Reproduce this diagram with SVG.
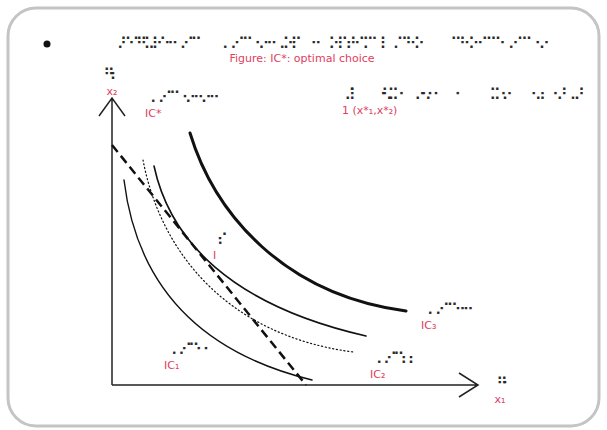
<svg xmlns="http://www.w3.org/2000/svg" width="607" height="430" viewBox="0 0 607 430">
<style>
.br{font-family:"DejaVu Sans",sans-serif;font-size:16px;fill:#2a2a2a}
.lb{font-family:"DejaVu Sans","Noto Sans",sans-serif;font-size:11px;fill:#e0405e}
.ax{fill:none;stroke:#222;stroke-width:1.5}
.c{fill:none;stroke:#111;stroke-linecap:round}
</style>
<rect x="0" y="0" width="607" height="430" fill="#ffffff"/>
<rect x="8" y="8" width="591" height="418" rx="28" fill="#fff" stroke="#c4c4c4" stroke-width="3"/>
<circle cx="47" cy="44" r="3.5" fill="#111"/>
<g id="title">
<text class="br" y="49"><tspan x="112" textLength="90">⠠⠋⠊⠛⠥⠗⠑⠒⠠⠊⠉</tspan><tspan x="217" textLength="85">⠠⠠⠊⠉⠐⠔⠒⠠⠕⠏</tspan><tspan x="310" textLength="11">⠒</tspan><tspan x="328" textLength="97">⠕⠏⠞⠊⠍⠁⠇⠠⠉⠓⠕</tspan><tspan x="450" textLength="100">⠉⠓⠕⠊⠉⠑⠠⠊⠉⠐⠔</tspan></text>
<text class="lb" x="302" y="62" text-anchor="middle">Figure: IC*: optimal choice</text>
</g>
<g id="axes">
<path class="ax" d="M112,385 V98 M99,116 L112,98 L125,116"/>
<path class="ax" d="M112,385 H478 M459,373 L478,385 L459,397"/>
</g>
<g id="x2label">
<text class="br" x="103" y="80" textLength="18">⠛⠆</text>
<text class="lb" x="112" y="95" text-anchor="middle">x₂</text>
</g>
<g id="x1label">
<text class="br" x="496" y="389" textLength="17">⠛⠂</text>
<text class="lb" x="500" y="403" text-anchor="middle">x₁</text>
</g>
<g id="connectors">
<path class="c" stroke-width="3" d="M190,133 C215,215 285,295 406,311"/>
<path class="c" stroke-width="1.6" d="M154,166 C170,240 230,305 366,336"/>
<path class="c" stroke-width="1.2" stroke-dasharray="1.2 2.6" d="M143,160 C160,250 225,335 353,352"/>
<path class="c" stroke-width="1.4" d="M124,180 C138,295 210,355 312,380"/>
<path fill="none" stroke="#111" stroke-width="2.5" stroke-dasharray="9 5" d="M112,145 L306,385"/>
</g>
<g id="icstar">
<text class="br" x="145" y="103" textLength="75">⠠⠠⠊⠉⠐⠔⠒⠔⠒</text>
<text class="lb" x="145" y="117">IC*</text>
</g>
<g id="point">
<text class="br" y="100"><tspan x="344" textLength="16">⠼⠁</tspan><tspan x="375" textLength="30">⠐⠣⠭⠐</tspan><tspan x="414" textLength="30">⠔⠢⠂⠂</tspan><tspan x="454" textLength="5">⠂</tspan><tspan x="489" textLength="24">⠭⠐⠔</tspan><tspan x="530" textLength="55">⠢⠆⠐⠜⠠⠜</tspan></text>
<text class="lb" x="342" y="114">1 (x*₁,x*₂)</text>
</g>
<g id="I">
<text class="br" x="212" y="245" textLength="16">⠠⠊</text>
<text class="lb" x="213" y="259">I</text>
</g>
<g id="ic1">
<text class="br" x="166" y="355" textLength="48">⠠⠠⠊⠉⠂⠂</text>
<text class="lb" x="164" y="369">IC₁</text>
</g>
<g id="ic2">
<text class="br" x="371" y="364" textLength="48">⠠⠠⠊⠉⠆⠆</text>
<text class="lb" x="370" y="378">IC₂</text>
</g>
<g id="ic3">
<text class="br" x="422" y="315" textLength="52">⠠⠠⠊⠉⠒⠒</text>
<text class="lb" x="421" y="329">IC₃</text>
</g>
</svg>
